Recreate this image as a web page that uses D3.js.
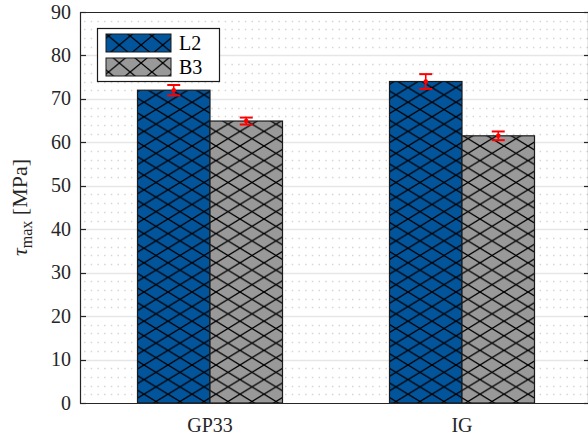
<!DOCTYPE html>
<html>
<head>
<meta charset="utf-8">
<script src="https://cdn.jsdelivr.net/npm/d3@7"></script>
<style>
  body { margin: 0; background: #fff; }
  svg { display: block; }
  svg text { font-family: "Liberation Serif", "DejaVu Serif", serif; }
</style>
</head>
<body>
<svg id="chart" width="588" height="439"></svg>
<script>
// data
const categories = ["GP33", "IG"];
const series = ["L2", "B3"];
const means = [[72.0, 64.9], [74.0, 61.5]];   // [category][series]
const errs  = [[1.2, 0.8], [1.7, 1.0]];
const yTicks = [0, 10, 20, 30, 40, 50, 60, 70, 80, 90];

const colors = ["#02549b", "#999999"];
const FONT = "'Liberation Serif', 'DejaVu Serif', serif";

const svg = d3.select("#chart");
const mLeft = 80, mRight = 590, mTop = 12, mBottom = 403;

const x = d3.scaleLinear().domain([1, 2]).range([210, 462]);
const y = d3.scaleLinear().domain([0, 90]).range([mBottom, mTop]);
const barW = 72.5;

// hatch patterns
const defs = svg.append("defs");
function hatch(id, fill, w, h) {
  const p = defs.append("pattern").attr("id", id)
    .attr("patternUnits", "userSpaceOnUse").attr("width", w).attr("height", h);
  p.append("rect").attr("width", w).attr("height", h).attr("fill", fill);
  const lines = [[0, 0, w, h], [0, h, w, 0], [-w, 0, w, 2*h], [0, -h, 2*w, h], [-w, h, w, -h], [0, 2*h, 2*w, 0]];
  lines.forEach(l => p.append("line").attr("x1", l[0]).attr("y1", l[1]).attr("x2", l[2]).attr("y2", l[3])
    .attr("stroke", "#000").attr("stroke-width", 1.3));
  return p;
}
series.forEach((s, i) => {
  hatch("h" + i, colors[i], 24, 14.6);
  hatch("lh" + i, colors[i], 21.7, 18);
});

// grid: minor dotted then major solid
const minor = d3.range(2, 90, 2).filter(v => v % 10 !== 0);
svg.append("g").selectAll("line").data(minor).enter().append("line")
  .attr("x1", mLeft + 4).attr("x2", mRight)
  .attr("y1", d => Math.round(y(d)) + 0.5).attr("y2", d => Math.round(y(d)) + 0.5)
  .attr("stroke", "#d6d6d6").attr("stroke-width", 1.3)
  .attr("stroke-dasharray", "1.5,5.2");
svg.append("g").selectAll("line").data(yTicks.slice(1, -1)).enter().append("line")
  .attr("x1", mLeft).attr("x2", mRight)
  .attr("y1", d => Math.round(y(d)) + 0.5).attr("y2", d => Math.round(y(d)) + 0.5)
  .attr("stroke", "#e6e6e6").attr("stroke-width", 1.6);

// bars
const groups = svg.append("g").selectAll("g").data(categories).enter().append("g");
groups.each(function(c, ci) {
  const g = d3.select(this);
  series.forEach((s, si) => {
    const x0 = x(ci + 1) - barW + si * barW;
    g.append("rect")
      .attr("x", x0).attr("y", y(means[ci][si]))
      .attr("width", barW).attr("height", y(0) - y(means[ci][si]))
      .attr("fill", "url(#h" + si + ")")
      .attr("stroke", "#1a1a1a").attr("stroke-width", 1.2);
  });
});

// error bars
groups.each(function(c, ci) {
  const g = d3.select(this);
  series.forEach((s, si) => {
    const cx = x(ci + 1) - barW / 2 + si * barW;
    const m = means[ci][si], e = errs[ci][si];
    const eg = g.append("g").attr("stroke", "#ff0000").attr("stroke-width", 1.6);
    eg.append("line").attr("x1", cx).attr("x2", cx).attr("y1", y(m - e)).attr("y2", y(m + e));
    [m - e, m + e].forEach(v => eg.append("line")
      .attr("x1", cx - 6.5).attr("x2", cx + 6.5).attr("y1", y(v)).attr("y2", y(v)).attr("stroke-width", 2));
    g.append("circle").attr("cx", cx).attr("cy", y(m)).attr("r", 2.3).attr("fill", "#ff0000");
  });
});

// axes box
const ax = svg.append("g").attr("stroke", "#262626").attr("fill", "none");
ax.append("line").attr("x1", mLeft + 0.5).attr("x2", mLeft + 0.5).attr("y1", mTop).attr("y2", mBottom + 0.5).attr("stroke-width", 1.2);
ax.append("line").attr("x1", mLeft).attr("x2", mRight).attr("y1", mBottom + 0.5).attr("y2", mBottom + 0.5).attr("stroke-width", 1.2);
ax.append("line").attr("x1", mLeft).attr("x2", mRight).attr("y1", mTop + 0.5).attr("y2", mTop + 0.5).attr("stroke-width", 1.2);
ax.append("line").attr("x1", mRight - 1.5).attr("x2", mRight - 1.5).attr("y1", mTop).attr("y2", mBottom).attr("stroke-width", 1.2);

// y ticks and labels
const yAxis = svg.append("g");
yAxis.selectAll("line.tl").data(yTicks).enter().append("line")
  .attr("x1", mLeft).attr("x2", mLeft + 6)
  .attr("y1", d => Math.round(y(d)) + 0.5).attr("y2", d => Math.round(y(d)) + 0.5)
  .attr("stroke", "#262626").attr("stroke-width", 1.2);
yAxis.selectAll("line.tr").data(yTicks).enter().append("line")
  .attr("x1", mRight - 6).attr("x2", mRight)
  .attr("y1", d => Math.round(y(d)) + 0.5).attr("y2", d => Math.round(y(d)) + 0.5)
  .attr("stroke", "#262626").attr("stroke-width", 1.2);
yAxis.selectAll("text").data(yTicks).enter().append("text")
  .attr("x", mLeft - 9).attr("y", d => y(d) + 6.5)
  .attr("text-anchor", "end").attr("font-family", FONT).attr("font-size", 20).attr("fill", "#262626")
  .text(d => d);

// x labels
svg.append("g").selectAll("text").data(categories).enter().append("text")
  .attr("x", (d, i) => x(i + 1)).attr("y", 432)
  .attr("text-anchor", "middle").attr("font-family", FONT).attr("font-size", 20).attr("fill", "#262626")
  .text(d => d);

// y label
const yl = svg.append("text")
  .attr("transform", "translate(27," + ((mTop + mBottom) / 2) + ") rotate(-90)")
  .attr("text-anchor", "middle").attr("font-family", FONT).attr("font-size", 22).attr("fill", "#262626");
yl.append("tspan").attr("font-style", "italic").text("\u03C4");
yl.append("tspan").attr("font-size", 16).attr("dy", 5).text("max");
yl.append("tspan").attr("dy", -5).text(" [MPa]");

// legend
const lg = svg.append("g");
lg.append("rect").attr("x", 97.5).attr("y", 28.5).attr("width", 122).attr("height", 53)
  .attr("fill", "#fff").attr("stroke", "#1a1a1a").attr("stroke-width", 1.2);
series.forEach((s, i) => {
  const yy = 34 + i * 24;
  lg.append("rect").attr("x", 106).attr("y", yy).attr("width", 65).attr("height", 18)
    .attr("fill", "url(#lh" + i + ")").attr("stroke", "#1a1a1a").attr("stroke-width", 1);
  lg.append("text").attr("x", 179).attr("y", yy + 16).attr("font-family", FONT).attr("font-size", 20).attr("fill", "#000").text(s);
});
</script>
</body>
</html>
